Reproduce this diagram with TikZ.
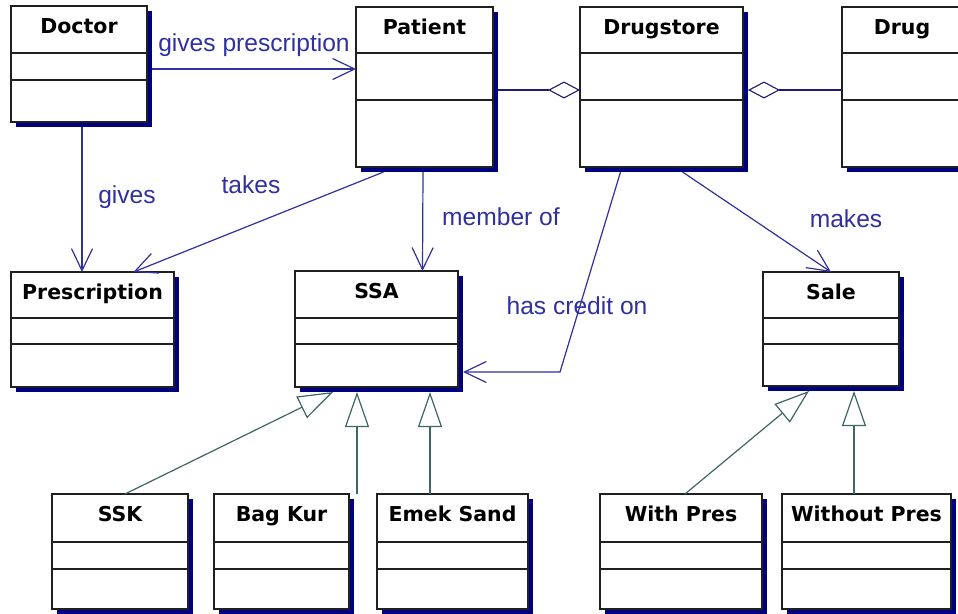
\documentclass[tikz,border=0pt]{standalone}
\usepackage{fontspec}
\setmainfont{DejaVu Sans}
\newfontfamily\labelfont{Liberation Sans}
\usetikzlibrary{arrows.meta,shadows}

\definecolor{shadownavy}{HTML}{000080}
\definecolor{assocblue}{HTML}{3030A0}
\definecolor{aggnavy}{HTML}{1C1C70}
\definecolor{genslate}{HTML}{3E6666}
\definecolor{boxline}{HTML}{202020}

% class box: name, x1, y1, x2, y2, first divider, second divider, title
\newcommand\umlclass[8]{%
  \node[classbox, minimum width={(#4-#2)*1pt}, minimum height={(#5-#3)*1pt}] (#1) at (#2,#3) {};
  \draw[divider] (#2,#6) -- (#4,#6) (#2,#7) -- (#4,#7);
  \node[classtitle] (#1-title) at ({(#2+#4)/2},{#3+27}) {#8};
}

\begin{document}
\begin{tikzpicture}[x=1pt,y=-1pt,
  classbox/.style={draw=boxline, line width=1.4pt, fill=white, rectangle,
    inner sep=0pt, outer sep=0pt, anchor=north west,
    general shadow={fill=shadownavy, draw=none, shadow xshift=5pt, shadow yshift=-5pt}},
  divider/.style={draw=boxline, line width=1.4pt},
  classtitle/.style={anchor=base, inner sep=0pt, font=\fontsize{20.5}{24}\selectfont\bfseries},
  assoc/.style={draw=assocblue, line width=1.2pt,
    -{Straight Barb[length=22pt,width=21pt,line width=1.2pt]}},
  agg/.style={draw=aggnavy, line width=1.1pt,
    -{Diamond[length=32pt,width=17pt,fill=white,line width=1.1pt]}},
  gen/.style={draw=genslate, line width=1.2pt,
    -{Triangle[length=35pt,width=24pt,fill=white,line width=1.2pt]}},
  lbl/.style={anchor=base, inner sep=0pt, text=assocblue,
    font=\labelfont\fontsize{24.6}{28}\selectfont}]

\useasboundingbox (0,0) rectangle (958,613);
\fill[white] (0,0) rectangle (958,613);
\clip (0,0) rectangle (958,613);

% classes
\umlclass{doctor}{11}{6}{147}{122}{53}{80}{Doctor}
\umlclass{patient}{356}{7}{493}{167}{53}{100}{Patient}
\umlclass{drugstore}{580}{7}{743}{167}{53}{100}{Drugstore}
\umlclass{drug}{842}{7}{962}{167}{53}{100}{Drug}
\umlclass{prescription}{11}{272}{174}{387}{318}{344}{Prescription}
\umlclass{ssa}{295}{271}{458}{387}{318}{344}{SSA}
\umlclass{sale}{763}{272}{899}{386}{318}{344}{Sale}
\umlclass{ssk}{52}{494}{188}{609}{542}{569}{SSK}
\umlclass{bagkur}{214}{494}{349}{609}{542}{569}{Bag Kur}
\umlclass{emek}{377}{494}{528}{609}{542}{569}{Emek Sand}
\umlclass{withpres}{600}{494}{762}{609}{542}{569}{With Pres}
\umlclass{withoutpres}{782}{494}{951}{609}{542}{569}{Without Pres}

% associations
\coordinate (gpFrom) at ([xshift=5pt,yshift=-5pt]doctor.east);
\draw[assoc] (gpFrom) -- (gpFrom -| patient.west);
\draw[assoc] ([xshift=3pt,yshift=-5pt]doctor.south) -- ([xshift=-10.5pt]prescription.north);
\draw[assoc] ([xshift=-41pt,yshift=-5pt]patient.south) -- ([xshift=41pt]prescription.north);
\draw[assoc] ([xshift=-1.5pt,yshift=-5pt]patient.south) -- ([xshift=46pt]ssa.north);
\coordinate (creditBend) at (560,372);
\draw[assoc] ([xshift=-41pt,yshift=-5pt]drugstore.south) -- (creditBend)
  -- ([xshift=5pt,yshift=-43pt]ssa.east);
\draw[assoc] ([xshift=21pt,yshift=-5pt]drugstore.south) -- (sale.north);

% aggregations
\draw[agg] ([xshift=5pt,yshift=-3pt]patient.east) -- ([yshift=-3pt]drugstore.west);
\draw[agg] ([yshift=-3pt]drug.west) -- ([xshift=5pt,yshift=-3pt]drugstore.east);

% generalizations
\draw[gen] ([xshift=5pt]ssk.north) -- ([xshift=-43.5pt,yshift=-5pt]ssa.south);
\draw[gen] ([xshift=8pt]bagkur.north east) -- ([xshift=-19.5pt,yshift=-5pt]ssa.south);
\draw[gen] ([xshift=-22.5pt]emek.north) -- ([xshift=53.5pt,yshift=-5pt]ssa.south);
\draw[gen] ([xshift=4pt]withpres.north) -- ([xshift=-22pt,yshift=-5pt]sale.south);
\draw[gen] ([xshift=-12.5pt]withoutpres.north) -- ([xshift=23pt,yshift=-5pt]sale.south);

% association labels
\node[lbl] (lGivesPres) at (254,51) {gives prescription};
\node[lbl] (lGives) at (127,203) {gives};
\node[lbl] (lTakes) at (251,193) {takes};
\node[lbl] (lMember) at (501,225) {member of};
\node[lbl] (lCredit) at (577,314) {has credit on};
\node[lbl] (lMakes) at (846,227) {makes};
\end{tikzpicture}
\end{document}
